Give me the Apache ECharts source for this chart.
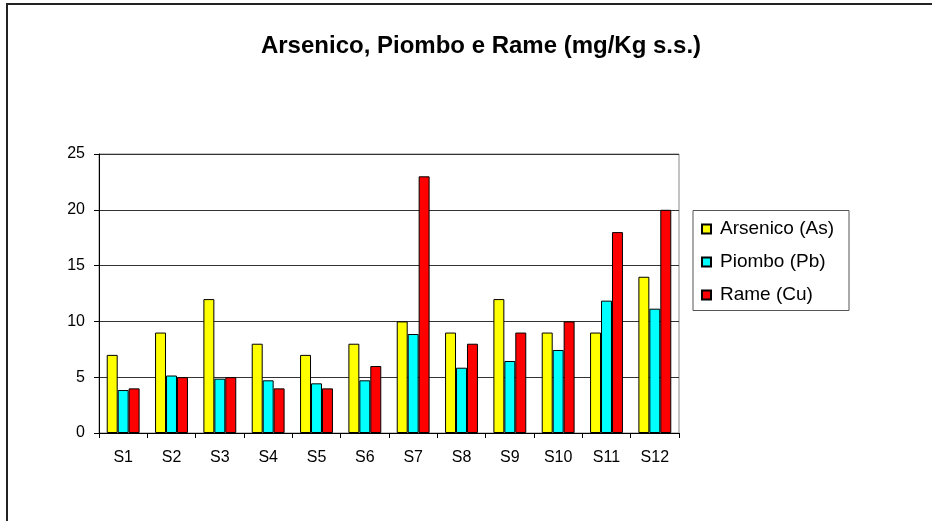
<!DOCTYPE html>
<html>
<head>
<meta charset="utf-8">
<script src="https://cdn.jsdelivr.net/npm/echarts@6/dist/echarts.min.js"></script>
<style>
  html, body { margin: 0; padding: 0; background: #fff; }
  #chart { width: 932px; height: 521px; }
</style>
</head>
<body>
<div id="chart"></div>
<script>
// Sampling stations and measured concentrations (mg/Kg s.s.)
const stations = ['S1', 'S2', 'S3', 'S4', 'S5', 'S6', 'S7', 'S8', 'S9', 'S10', 'S11', 'S12'];
const arsenico = [7, 9, 12, 8, 7, 8, 10, 9, 12, 9, 9, 14];
const piombo = [3.85, 5.15, 4.87, 4.72, 4.45, 4.72, 8.87, 5.85, 6.45, 7.44, 11.86, 11.14];
const rame = [4, 5, 5, 4, 4, 6, 23, 8, 9, 10, 18, 20];
const yTicks = [0, 5, 10, 15, 20, 25];

const seriesNames = ['Arsenico (As)', 'Piombo (Pb)', 'Rame (Cu)'];
const seriesColors = ['#FFFF00', '#00FFFF', '#FF0000'];
const seriesData = [arsenico, piombo, rame];

const FONT = "'Liberation Sans', Arial, sans-serif";

const chart = echarts.init(document.getElementById('chart'), null, { renderer: 'canvas' });

chart.setOption({
  animation: false,
  backgroundColor: '#ffffff',
  title: {
    text: 'Arsenico, Piombo e Rame (mg/Kg s.s.)',
    left: 476,
    top: 29,
    textAlign: 'center',
    textStyle: { fontFamily: FONT, fontSize: 24, fontWeight: 'bold', color: '#000' }
  },
  graphic: [
    { // outer chart frame
      type: 'rect',
      shape: { x: 7, y: 4, width: 1000, height: 600 },
      style: { fill: 'none', stroke: '#222', lineWidth: 2 },
      silent: true
    },
    { // legend box
      type: 'rect',
      shape: { x: 693, y: 210.5, width: 156, height: 100 },
      style: { fill: '#fff', stroke: '#555', lineWidth: 1 },
      silent: true,
      z: 0
    }
  ],
  legend: {
    orient: 'vertical',
    left: 693,
    top: 211,
    padding: [8, 8, 6, 8],
    itemWidth: 9,
    itemHeight: 9,
    itemGap: 13,
    icon: 'rect',
    data: seriesNames,
    textStyle: { fontFamily: FONT, fontSize: 19, color: '#000', lineHeight: 20, padding: [0, 0, 0, 4] },
    z: 5
  },
  grid: {
    left: 99,
    right: 253,
    top: 154,
    bottom: 88,
    show: true,
    borderColor: '#888',
    borderWidth: 1
  },
  xAxis: {
    type: 'category',
    data: stations,
    axisLine: { lineStyle: { color: '#000', width: 1 } },
    axisTick: { show: true, length: 5, lineStyle: { color: '#000' } },
    axisLabel: { fontFamily: FONT, fontSize: 16, color: '#000', margin: 17 }
  },
  yAxis: {
    type: 'value',
    min: yTicks[0],
    max: yTicks[yTicks.length - 1],
    interval: yTicks[1] - yTicks[0],
    axisLine: { show: true, lineStyle: { color: '#000', width: 1 } },
    axisTick: { show: true, length: 5, lineStyle: { color: '#000' } },
    axisLabel: { fontFamily: FONT, fontSize: 16, color: '#000', margin: 14 },
    splitLine: { show: true, lineStyle: { color: '#333', width: 1 } }
  },
  series: seriesNames.map((name, i) => ({
    name: name,
    type: 'bar',
    data: seriesData[i],
    barGap: '0%',
    barCategoryGap: '32%',
    itemStyle: { color: seriesColors[i], borderColor: '#000', borderWidth: 1 }
  }))
});
</script>
</body>
</html>
